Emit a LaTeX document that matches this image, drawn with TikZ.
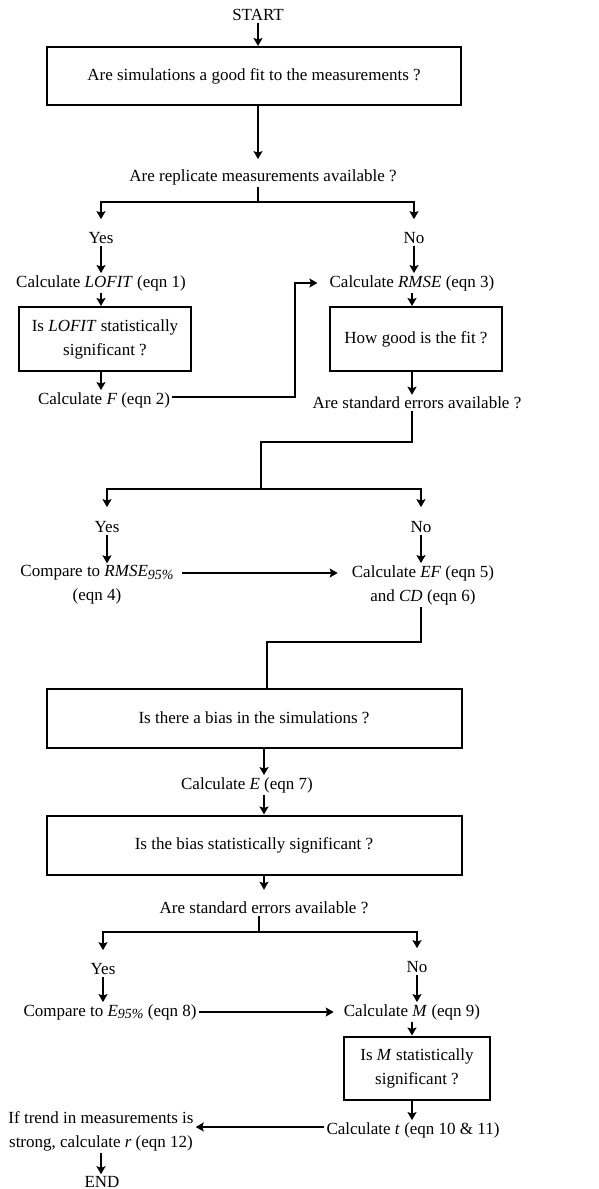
\documentclass[tikz,border=0pt]{standalone}
\usepackage{fontspec}
\setmainfont{Liberation Serif}
\usepackage{tikz}
\usetikzlibrary{arrows.meta}

\newcommand{\lowsub}[1]{\raisebox{-0.35ex}{\fontsize{14}{14}\selectfont\textit{#1}}}

\begin{document}
\begin{tikzpicture}[x=1pt,y=-1pt,
  every node/.style={font=\fontsize{17}{24}\selectfont,inner sep=2pt,align=center},
  box/.style={draw,line width=2pt,minimum height=58pt},
  line/.style={line width=1.8pt},
  arr/.style={line width=1.8pt,-{Stealth[length=8pt,width=9pt,inset=1.5pt]}}]
\useasboundingbox (0,0) rectangle (598,1189);

% Goodness of fit
\node (start) at (258,15) {START};
\node[box,minimum width=414pt] (fitq) at (254,76) {Are simulations a good fit to the measurements ?};
\node (repq) at (263,177) {Are replicate measurements available ?};
\draw[arr] (start.south) -- (start.south |- fitq.north);
\draw[arr,shorten >=8pt] (fitq.south -| start) -- (repq.north -| start);

% Replicates: split
\coordinate (rsplit) at (258,202);
\node (yesA) at (101,238) {Yes};
\node (noA) at (414,238) {No};
\draw[line] (repq.south -| rsplit) -- (rsplit);
\draw[arr,shorten >=11pt] (rsplit) -| (yesA.north);
\draw[arr,shorten >=11pt] (rsplit) -| (noA.north);

% Left branch (LOFIT)
\node (lofit) at (101,283) {Calculate \textit{LOFIT} (eqn 1)};
\node[box,minimum width=172pt,minimum height=64pt] (lofitq) at (105,339) {Is \textit{LOFIT} statistically\\significant ?};
\node (calcF) at (104,400) {Calculate \textit{F} (eqn 2)};
\draw[arr] (yesA) -- (yesA |- lofit.north);
\draw[arr] (lofit) -- (lofit |- lofitq.north);
\draw[arr] (lofit |- lofitq.south) -- (lofit |- calcF.north);

% Right branch (RMSE)
\node (rmse) at (412,283) {Calculate \textit{RMSE} (eqn 3)};
\node[box,minimum width=172pt,minimum height=64pt] (fitgood) at (416,339) {How good is the fit ?};
\node (seA) at (417,403) {Are standard errors available ?};
\draw[arr] (noA) -- (noA |- rmse.north);
\draw[arr] (rmse) -- (rmse |- fitgood.north);
\draw[arr] (rmse |- fitgood.south) -- (rmse |- seA.north);
\coordinate (bend) at (295,397);
\draw[arr,shorten >=10pt] (calcF.east |- bend) -- (bend) |- (rmse.west);

% Standard errors: split
\coordinate (seturn) at (261,442);
\coordinate (sesplit) at (261,489);
\node (yesB) at (107,527) {Yes};
\node (noB) at (421,527) {No};
\draw[line] (seA.south -| rmse) |- (seturn) -- (sesplit);
\draw[arr,shorten >=12pt] (sesplit) -| (yesB.north);
\draw[arr,shorten >=12pt] (sesplit) -| (noB.north);

\node (cmpR) at (97,585) {Compare to \textit{RMSE}\lowsub{95\%}\\(eqn 4)};
\node (calcEF) at (423,585) {Calculate \textit{EF} (eqn 5)\\and \textit{CD} (eqn 6)};
\draw[arr] (yesB) -- (yesB |- cmpR.north);
\draw[arr] (noB) -- (noB |- calcEF.north);
\draw[arr,shorten <=6pt,shorten >=12pt] ([yshift=12pt]cmpR.east) -- ([yshift=12pt]cmpR.east -| calcEF.west);

% Bias
\coordinate (efturn) at (267,642);
\node[box,minimum width=415pt,minimum height=59pt] (biasq) at (254,718) {Is there a bias in the simulations ?};
\node (calcE) at (247,785) {Calculate \textit{E} (eqn 7)};
\node[box,minimum width=415pt,minimum height=59pt] (biassig) at (254,845) {Is the bias statistically significant ?};
\node (seB) at (264,908) {Are standard errors available ?};
\draw[line] (calcEF.south -| noB) |- (efturn) -- (efturn |- biasq.north);
\draw[arr] (biasq.south -| seB) -- (calcE.north -| seB);
\draw[arr] (calcE.south -| seB) -- (biassig.north -| seB);
\draw[arr,shorten >=10pt] (biassig.south -| seB) -- (seB.north);

% Standard errors: split
\coordinate (sesplitB) at (259,932);
\node (yesC) at (103,969) {Yes};
\node (noC) at (417,967) {No};
\draw[line] (seB.south -| sesplitB) -- (sesplitB);
\draw[arr,shorten >=11pt] (sesplitB) -| (yesC.north);
\draw[arr,shorten >=11pt] (sesplitB) -| (noC.north);

\node (cmpE) at (110,1012) {Compare to \textit{E}\lowsub{95\%} (eqn 8)};
\node (calcM) at (412,1012) {Calculate \textit{M} (eqn 9)};
\node[box,minimum width=146pt,minimum height=63pt] (msig) at (417,1068) {Is \textit{M} statistically\\significant ?};
\node (calct) at (413,1130) {Calculate \textit{t} (eqn 10 \& 11)};
\node (trend) at (101,1131) {If trend in measurements is\\strong, calculate \textit{r} (eqn 12)};
\node (stop) at (102,1182) {END};
\draw[arr] (yesC) -- (yesC |- cmpE.north);
\draw[arr] (noC) -- (noC |- calcM.north);
\draw[arr,shorten >=8pt] (cmpE.east) -- (calcM.west);
\draw[arr] (calcM) -- (calcM |- msig.north);
\draw[arr] (calcM |- msig.south) -- (calcM |- calct.north);
\draw[arr] ([yshift=3pt]calct.west) -- ([yshift=3pt]calct.west -| trend.east);
\draw[arr] (trend) -- (trend |- stop.north);
\end{tikzpicture}
\end{document}
